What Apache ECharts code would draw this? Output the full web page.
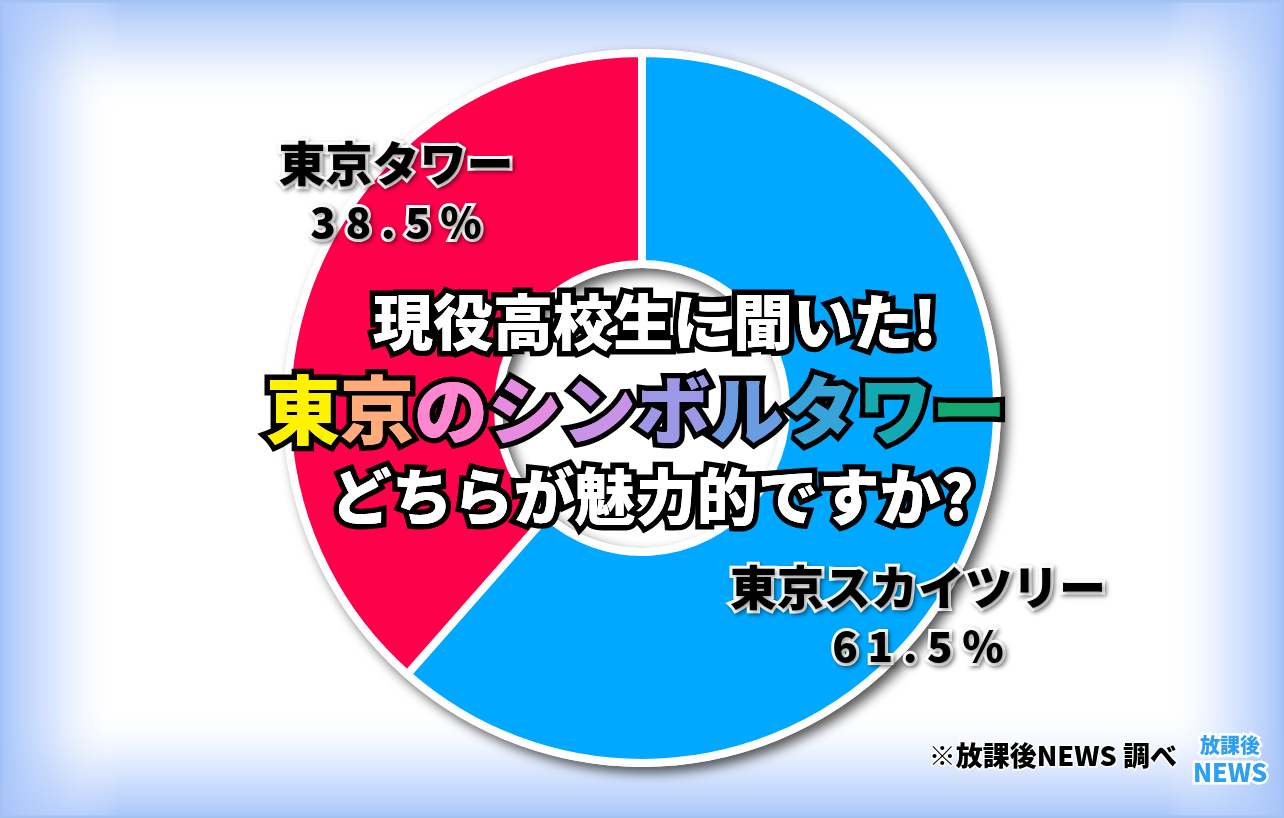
<!DOCTYPE html>
<html><head><meta charset="utf-8">
<script src="https://cdn.jsdelivr.net/npm/echarts@6/dist/echarts.min.js"></script>
<style>html,body{margin:0;padding:0;background:#fff}#c{width:1284px;height:818px}</style>
</head><body><div id="c"></div>
<script>
const categories = ['東京スカイツリー', '東京タワー'];
const values = [61.5, 38.5];
const sliceColors = ['#00a9ff', '#ff004a'];
const titleLines = ['現役高校生に聞いた!', '東京のシンボルタワー', 'どちらが魅力的ですか?'];
const rainbow = ['#fff200', '#ffab7a', '#ff86d0', '#e58be0', '#c892e6', '#9c98e6', '#6b9ce2', '#36a4d8', '#14a8b0', '#12a870'];
const sourceNote = '※放課後NEWS 調べ';
const logoLines = ['放課後', 'NEWS'];

const FONT = '"Noto Sans CJK JP", "Noto Sans", sans-serif';
const CX = 642, CY = 408;
const labelPos = [[918, 616], [396, 192]];

const chart = echarts.init(document.getElementById('c'), null, {renderer: 'canvas'});

function spaced(v) { return (v.toFixed(1) + '%').split('').join(' '); }

function band(x, y, w, h, gx, gy, gx2, gy2) {
  return {
    type: 'rect', z: 0, silent: true,
    shape: {x: x, y: y, width: w, height: h},
    style: {fill: new echarts.graphic.LinearGradient(gx, gy, gx2, gy2, [
      {offset: 0, color: 'rgba(166,196,250,1)'},
      {offset: 0.45, color: 'rgba(190,212,252,0.55)'},
      {offset: 1, color: 'rgba(255,255,255,0)'}
    ])}
  };
}

function outlinedLine(text, x, y, size, fill, richFill) {
  const els = [];
  const font = '900 ' + size + 'px ' + FONT;
  let richText = text, rich = undefined, richBlack = undefined;
  if (richFill) {
    rich = {}; richBlack = {};
    richText = text.split('').map((ch, i) => {
      rich['r' + i] = {fill: richFill[i % richFill.length], font: font};
      richBlack['r' + i] = {fill: '#000', font: font};
      return '{r' + i + '|' + ch + '}';
    }).join('');
  }
  els.push({
    type: 'text', z: 50, silent: true, x: x, y: y,
    style: {
      text: richText, rich: richBlack,
      font: font, align: 'center', verticalAlign: 'middle',
      fill: '#000', stroke: '#000', lineWidth: 11,
      textShadowColor: '#000', textShadowOffsetX: 5, textShadowOffsetY: 6, textShadowBlur: 0
    }
  });
  els.push({
    type: 'text', z: 51, silent: true, x: x, y: y,
    style: {
      text: richText, rich: rich,
      font: font, align: 'center', verticalAlign: 'middle',
      fill: fill, stroke: '#000', lineWidth: 7
    }
  });
  els.push({
    type: 'text', z: 52, silent: true, x: x, y: y,
    style: {
      text: richText, rich: rich,
      font: font, align: 'center', verticalAlign: 'middle',
      fill: fill
    }
  });
  return els;
}

const graphics = [
  band(0, 0, 1284, 110, 0, 0, 0, 1),
  band(0, 708, 1284, 110, 0, 1, 0, 0),
  band(0, 0, 120, 818, 0, 0, 1, 0),
  band(1164, 0, 120, 818, 1, 0, 0, 0),
  {type: 'rect', z: 1, silent: true, shape: {x: 1, y: 1, width: 1282, height: 816},
   style: {fill: 'none', stroke: '#a4c1f4', lineWidth: 3}}
]
.concat(outlinedLine(titleLines[0], 655, 322, 60, '#fff'))
.concat(outlinedLine(titleLines[1], 636, 410, 74, '#fff', rainbow))
.concat(outlinedLine(titleLines[2], 652, 497, 61, '#fff'))
.concat([
  {type: 'text', z: 60, silent: true, x: 1177, y: 756,
   style: {text: sourceNote, font: '900 27px ' + FONT, align: 'right', verticalAlign: 'middle',
           fill: '#000', stroke: '#fff', lineWidth: 3}},
  {type: 'text', z: 60, silent: true, x: 1230, y: 745,
   style: {text: logoLines[0], font: '900 20px ' + FONT, align: 'center', verticalAlign: 'middle',
           fill: '#2f9ff0', stroke: '#fff', lineWidth: 5}},
  {type: 'text', z: 60, silent: true, x: 1230, y: 772,
   style: {text: logoLines[1], font: '900 25px ' + FONT, align: 'center', verticalAlign: 'middle',
           fill: '#2f9ff0', stroke: '#fff', lineWidth: 5}}
]);

const labelRich = (size, lh) => ({
  fontFamily: FONT, fontWeight: 900, fontSize: size, lineHeight: lh, color: '#000',
  textBorderColor: '#fff', textBorderWidth: 6,
  textShadowColor: 'rgba(0,0,0,0.4)', textShadowBlur: 4, textShadowOffsetX: 2, textShadowOffsetY: 2
});

const option = {
  backgroundColor: '#ffffff',
  animation: false,
  graphic: {elements: graphics},
  series: [
    {
      type: 'pie', silent: true, z: 2,
      center: [CX, CY], radius: [140, 359],
      label: {show: false}, labelLine: {show: false},
      itemStyle: {color: '#ffffff', shadowBlur: 12, shadowOffsetX: 6, shadowOffsetY: 6, shadowColor: 'rgba(0,0,0,0.65)'},
      data: [{value: 1, name: ''}]
    },
    {
      type: 'pie', silent: true, z: 3,
      center: [CX, CY], radius: [144, 355],
      startAngle: 90, clockwise: true,
      itemStyle: {borderColor: '#ffffff', borderWidth: 8},
      labelLine: {show: false},
      label: {
        show: true, position: 'inside', color: '#000',
        formatter: p => '{n|' + p.name + '}\n{v|' + spaced(p.value) + '}',
        rich: {n: labelRich(47, 60), v: labelRich(42, 58)}
      },
      labelLayout: p => ({x: labelPos[p.dataIndex][0], y: labelPos[p.dataIndex][1], align: 'center', verticalAlign: 'middle'}),
      data: categories.map((c, i) => ({name: c, value: values[i], itemStyle: {color: sliceColors[i]}}))
    }
  ]
};
chart.setOption(option);
</script>
</body></html>
